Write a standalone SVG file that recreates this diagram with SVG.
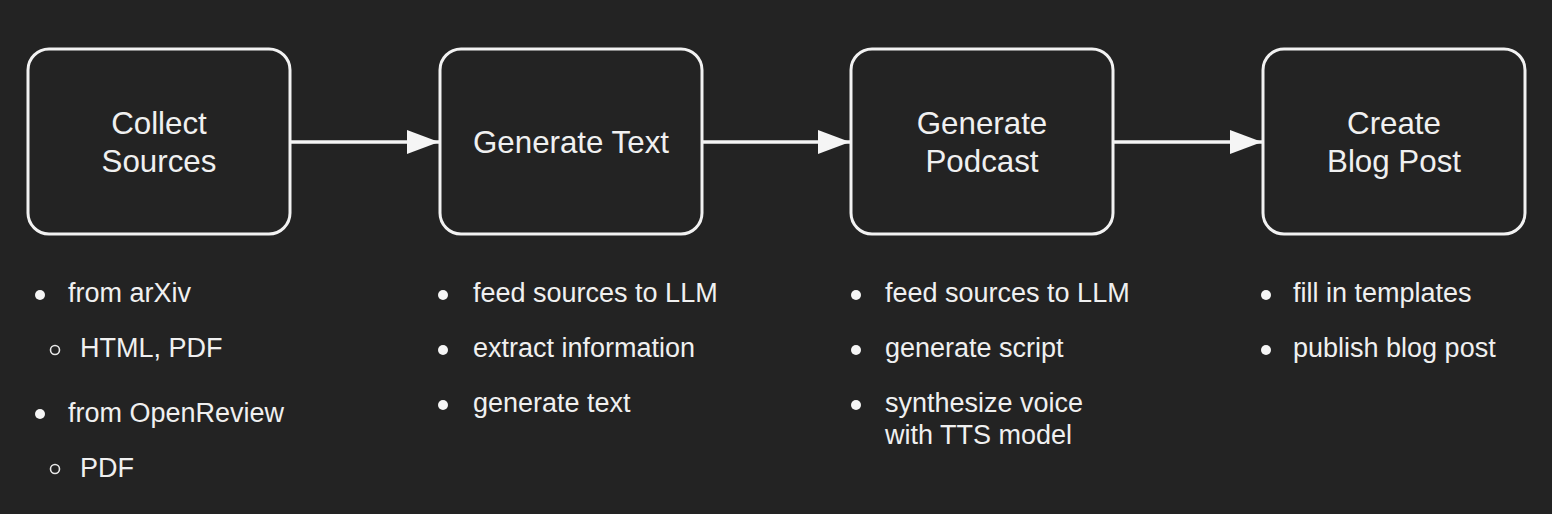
<svg xmlns="http://www.w3.org/2000/svg" width="1552" height="514" viewBox="0 0 1552 514">
<style>
.box{fill:#232323;stroke:#f2f2f2;stroke-width:3}
.title{font-family:"Liberation Sans",Arial,sans-serif;font-size:31.3px;fill:#f0f0f0;text-anchor:middle}
.item{font-family:"Liberation Sans",Arial,sans-serif;font-size:27px;fill:#f0f0f0}
.dot{fill:#f5f5f5}
.ring{fill:none;stroke:#e8e8e8;stroke-width:1.6}
.conn{stroke:#f5f5f5;stroke-width:3.5;fill:none}
</style>
<defs>
<marker id="ah" markerUnits="userSpaceOnUse" markerWidth="34" markerHeight="26" refX="32" refY="12" orient="auto">
<polygon points="0,0 32,12 0,24" fill="#f5f5f5"/>
</marker>
</defs>
<rect width="1552" height="514" fill="#232323"/>
<g id="connectors">
<line class="conn" x1="290" y1="142" x2="439" y2="142" marker-end="url(#ah)"/>
<line class="conn" x1="702" y1="142" x2="850" y2="142" marker-end="url(#ah)"/>
<line class="conn" x1="1113" y1="142" x2="1262" y2="142" marker-end="url(#ah)"/>
</g>
<g id="collect-sources">
<rect class="box" x="28" y="49" width="262" height="185" rx="21"/>
<text class="title" x="159" y="134">Collect</text>
<text class="title" x="159" y="172">Sources</text>
</g>
<g id="generate-text">
<rect class="box" x="440" y="49" width="262" height="185" rx="21"/>
<text class="title" x="571" y="153">Generate Text</text>
</g>
<g id="generate-podcast">
<rect class="box" x="851" y="49" width="262" height="185" rx="21"/>
<text class="title" x="982" y="134">Generate</text>
<text class="title" x="982" y="172">Podcast</text>
</g>
<g id="create-blog-post">
<rect class="box" x="1263" y="49" width="262" height="185" rx="21"/>
<text class="title" x="1394" y="134">Create</text>
<text class="title" x="1394" y="172">Blog Post</text>
</g>
<g id="list-collect">
<circle class="dot" cx="40" cy="295" r="5"/>
<text class="item" x="68" y="302">from arXiv</text>
<circle class="ring" cx="55" cy="350" r="4.5"/>
<text class="item" x="80" y="357">HTML, PDF</text>
<circle class="dot" cx="40" cy="414" r="5"/>
<text class="item" x="68" y="422">from OpenReview</text>
<circle class="ring" cx="55" cy="469" r="4.5"/>
<text class="item" x="80" y="477">PDF</text>
</g>
<g id="list-text">
<circle class="dot" cx="443" cy="295" r="5"/>
<text class="item" x="473" y="302">feed sources to LLM</text>
<circle class="dot" cx="443" cy="350" r="5"/>
<text class="item" x="473" y="357">extract information</text>
<circle class="dot" cx="443" cy="405" r="5"/>
<text class="item" x="473" y="412">generate text</text>
</g>
<g id="list-podcast">
<circle class="dot" cx="856" cy="295" r="5"/>
<text class="item" x="885" y="302">feed sources to LLM</text>
<circle class="dot" cx="856" cy="350" r="5"/>
<text class="item" x="885" y="357">generate script</text>
<circle class="dot" cx="856" cy="405" r="5"/>
<text class="item" x="885" y="412">synthesize voice</text>
<text class="item" x="885" y="444">with TTS model</text>
</g>
<g id="list-blog">
<circle class="dot" cx="1266" cy="295" r="5"/>
<text class="item" x="1293" y="302">fill in templates</text>
<circle class="dot" cx="1266" cy="350" r="5"/>
<text class="item" x="1293" y="357">publish blog post</text>
</g>
</svg>
